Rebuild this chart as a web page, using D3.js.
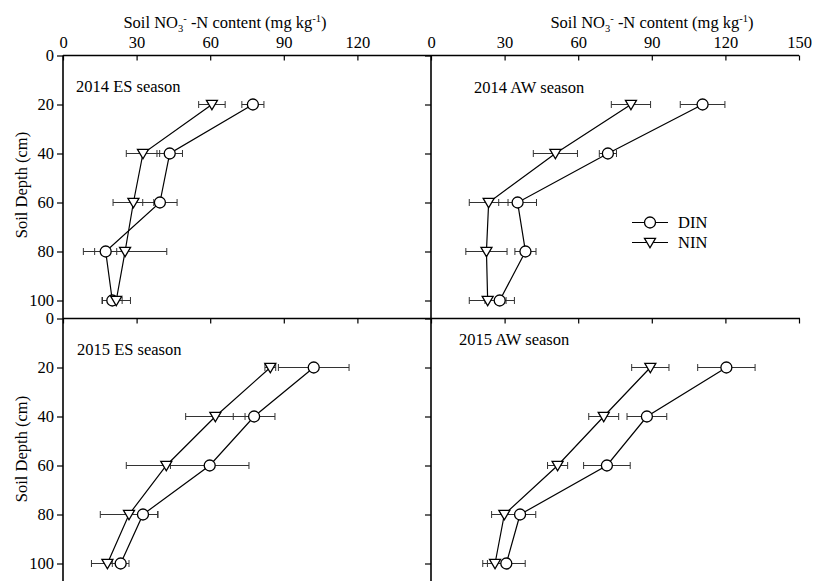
<!DOCTYPE html>
<html>
<head>
<meta charset="utf-8">
<script src="https://cdn.jsdelivr.net/npm/d3@7"></script>
<style>
  html, body { margin: 0; padding: 0; background: #fff; }
  svg { display: block; }
  text { font-family: "Liberation Serif", "Times New Roman", serif !important; fill: #000; }
</style>
</head>
<body>
<svg id="chart" width="813" height="581"></svg>
<script>
// ---- data ----
const depths = [20, 40, 60, 80, 100];
const panelTitles = ["2014 ES season", "2014 AW season", "2015 ES season", "2015 AW season"];
const seriesNames = ["DIN", "NIN"];
const xTicks = [0, 30, 60, 90, 120, 150];
const yTicks = [0, 20, 40, 60, 80, 100];

const dinMean = [
  [77.4, 43.5, 39.5, 17.4, 20.1],
  [110.7, 72.1, 35.3, 38.5, 28.0],
  [102.2, 77.9, 59.8, 32.6, 23.5],
  [120.4, 88.0, 71.7, 36.3, 30.7]
];
const dinErr = [
  [4.5, 5.2, 7.0, 4.5, 4.0],
  [9.1, 3.5, 7.7, 4.3, 6.0],
  [14.4, 8.5, 16.0, 6.1, 3.4],
  [11.7, 8.1, 9.5, 6.4, 7.7]
];
const ninMean = [
  [60.7, 32.6, 28.7, 25.3, 21.7],
  [81.5, 50.7, 23.5, 22.6, 23.1],
  [84.5, 62.1, 42.1, 26.9, 18.1],
  [89.4, 70.4, 51.6, 29.9, 26.1]
];
const ninErr = [
  [5.4, 6.8, 8.3, 17.0, 5.8],
  [8.0, 9.0, 7.9, 8.4, 7.5],
  [2.2, 12.1, 16.3, 11.7, 6.5],
  [7.6, 6.1, 4.1, 5.2, 5.0]
];

// ---- layout ----
const svg = d3.select("#chart");
const colX = [[63, 431], [431, 799]];
const rowY = [[55.5, 300.5], [318.5, 563.5]];
const fs = 16.5;
const FF = "Liberation Serif";

function xScale(c) { return d3.scaleLinear().domain([0, 150]).range(colX[c]); }
function yScale(r) { return d3.scaleLinear().domain([0, 100]).range(rowY[r]); }

const tri = (cx, cy, s) => `M${cx - s},${cy - s * 0.75}L${cx + s},${cy - s * 0.75}L${cx},${cy + s * 0.95}Z`;

// axes
for (let r = 0; r < 2; r++) {
  for (let c = 0; c < 2; c++) {
    const x = xScale(c), y = yScale(r);
    const showXLabels = r === 0;
    const xt = c === 0 ? xTicks.slice(0, 5) : xTicks;
    const xa = d3.axisTop(x).tickValues(xt).tickSizeInner(-5).tickSizeOuter(0).tickPadding(8)
      .tickFormat(showXLabels ? d3.format("d") : () => "");
    const gx = svg.append("g").attr("transform", `translate(0,${rowY[r][0]})`).call(xa)
      .attr("font-family", FF).attr("font-size", fs);
    gx.select(".domain").remove();
    gx.selectAll(".tick line").attr("stroke", "#000").attr("stroke-width", 1.2);
    gx.selectAll("text").attr("font-size", fs).attr("font-family", FF);

    const ya = d3.axisLeft(y).tickValues(yTicks).tickSizeInner(6).tickSizeOuter(0).tickPadding(3)
      .tickFormat(c === 0 ? d3.format("d") : () => "");
    const gy = svg.append("g").attr("transform", `translate(${colX[c][0]},0)`).call(ya)
      .attr("font-family", FF).attr("font-size", fs);
    gy.select(".domain").remove();
    gy.selectAll(".tick line").attr("stroke", "#000").attr("stroke-width", 1.2);
    gy.selectAll("text").attr("font-size", fs).attr("font-family", FF);
  }
}
// frame lines
const lineG = svg.append("g").attr("stroke", "#000").attr("stroke-width", 1.6);
lineG.append("line").attr("x1", 63).attr("x2", 799).attr("y1", rowY[0][0]).attr("y2", rowY[0][0]);
lineG.append("line").attr("x1", 63).attr("x2", 800).attr("y1", rowY[1][0]).attr("y2", rowY[1][0]);
lineG.append("line").attr("x1", 63).attr("x2", 63).attr("y1", rowY[0][0]).attr("y2", 581);
lineG.append("line").attr("x1", 431).attr("x2", 431).attr("y1", rowY[0][0]).attr("y2", 581);

// x-axis titles
function axisTitle(cx) {
  const t = svg.append("text").attr("x", cx).attr("y", 28).attr("font-size", fs)
    .attr("font-family", FF).attr("text-anchor", "middle");
  t.append("tspan").text("Soil NO");
  t.append("tspan").attr("font-size", 10.5).attr("dy", 4).text("3");
  t.append("tspan").attr("font-size", 10.5).attr("dy", -10).text("-");
  t.append("tspan").attr("dy", 6).text(" -N content (mg kg");
  t.append("tspan").attr("font-size", 10.5).attr("dy", -6).text("-1");
  t.append("tspan").attr("dy", 6).text(")");
}
axisTitle(225);
axisTitle(652);

// y-axis titles
[185, 449].forEach(cy => {
  svg.append("text").attr("transform", `translate(27,${cy}) rotate(-90)`)
    .attr("text-anchor", "middle").attr("font-size", fs).attr("font-family", FF).text("Soil Depth (cm)");
});

// panels
const labelPos = [[76, 92], [474, 93], [77, 355], [459, 345]];
for (let p = 0; p < 4; p++) {
  const r = Math.floor(p / 2), c = p % 2;
  const x = xScale(c), y = yScale(r);
  const g = svg.append("g");
  g.append("text").attr("x", labelPos[p][0]).attr("y", labelPos[p][1]).attr("font-size", fs)
    .attr("font-family", FF).text(panelTitles[p]);

  const series = [
    { mean: dinMean[p], err: dinErr[p], shape: "circle" },
    { mean: ninMean[p], err: ninErr[p], shape: "tri" }
  ];
  // error bars
  series.forEach(s => {
    const eg = g.append("g").attr("stroke", "#333").attr("stroke-width", 1);
    depths.forEach((d, i) => {
      const yy = y(d), x0 = x(s.mean[i] - s.err[i]), x1 = x(s.mean[i] + s.err[i]);
      eg.append("line").attr("x1", x0).attr("x2", x1).attr("y1", yy).attr("y2", yy);
      eg.append("line").attr("x1", x0).attr("x2", x0).attr("y1", yy - 3.5).attr("y2", yy + 3.5);
      eg.append("line").attr("x1", x1).attr("x2", x1).attr("y1", yy - 3.5).attr("y2", yy + 3.5);
    });
  });
  // lines
  const line = d3.line().x(d => x(d[0])).y(d => y(d[1]));
  series.forEach(s => {
    g.append("path").datum(depths.map((d, i) => [s.mean[i], d]))
      .attr("d", line).attr("fill", "none").attr("stroke", "#000").attr("stroke-width", 1.2);
  });
  // markers
  series.forEach(s => {
    depths.forEach((d, i) => {
      if (s.shape === "circle") {
        g.append("circle").attr("cx", x(s.mean[i])).attr("cy", y(d)).attr("r", 5.5)
          .attr("fill", "#fff").attr("stroke", "#000").attr("stroke-width", 1.3);
      } else {
        g.append("path").attr("d", tri(x(s.mean[i]), y(d), 5.5))
          .attr("fill", "#fff").attr("stroke", "#000").attr("stroke-width", 1.3);
      }
    });
  });
}

// legend
const leg = svg.append("g");
seriesNames.forEach((name, i) => {
  const ly = 222.5 + i * 20;
  leg.append("line").attr("x1", 632).attr("x2", 668).attr("y1", ly).attr("y2", ly).attr("stroke", "#000").attr("stroke-width", 1.2);
  if (i === 0) {
    leg.append("circle").attr("cx", 650).attr("cy", ly).attr("r", 5.5).attr("fill", "#fff").attr("stroke", "#000").attr("stroke-width", 1.3);
  } else {
    leg.append("path").attr("d", tri(650, ly, 5.5)).attr("fill", "#fff").attr("stroke", "#000").attr("stroke-width", 1.3);
  }
  leg.append("text").attr("x", 678).attr("y", ly + 5.5).attr("font-size", fs).attr("font-family", FF).text(name);
});
</script>
</body>
</html>
